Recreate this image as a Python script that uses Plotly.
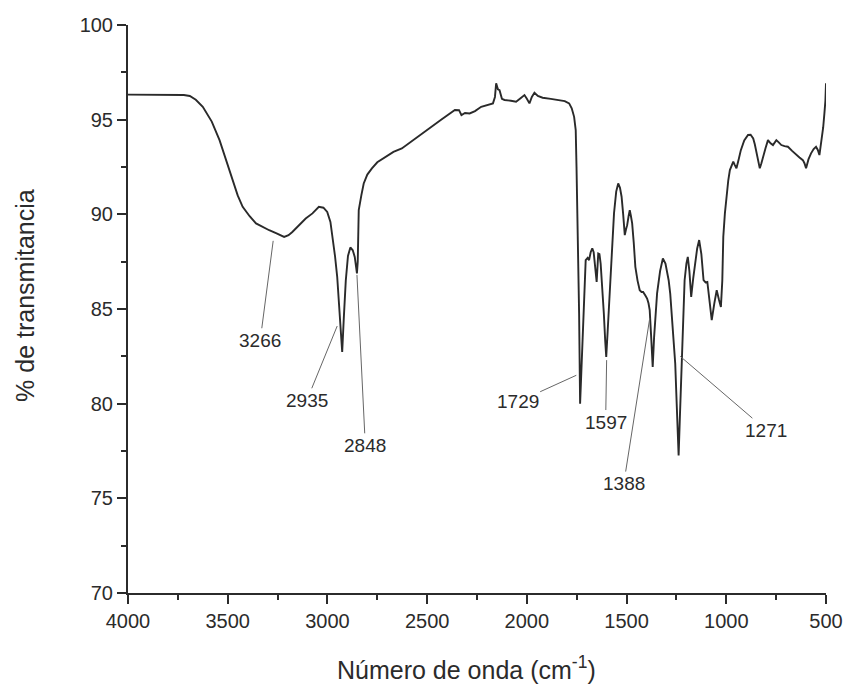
import plotly.graph_objects as go

wavenumber = [
    4000, 3900, 3800, 3720, 3690, 3660, 3625, 3580, 3541, 3510, 3475, 3450, 3425, 3390, 3358,
    3320, 3292, 3255, 3217, 3195, 3176, 3140, 3109, 3075, 3043, 3020, 3001, 2985, 2976, 2962,
    2951, 2940, 2932, 2926, 2918, 2908, 2897, 2885, 2873, 2863, 2856, 2852, 2848, 2843, 2830,
    2818, 2800, 2777, 2750, 2719, 2669, 2627, 2560, 2494, 2430, 2361, 2340, 2328, 2310, 2287,
    2260, 2229, 2190, 2170, 2160, 2154, 2145, 2137, 2125, 2112, 2080, 2054, 2030, 2012, 2000,
    1987, 1975, 1962, 1945, 1921, 1880, 1846, 1810, 1788, 1775, 1763, 1755, 1751, 1746, 1742,
    1738, 1733, 1728, 1722, 1716, 1710, 1705, 1695, 1688, 1680, 1672, 1665, 1660, 1650, 1642,
    1636, 1630, 1622, 1614, 1607, 1602, 1595, 1588, 1580, 1570, 1563, 1552, 1542, 1533, 1525,
    1517, 1509, 1503, 1497, 1490, 1484, 1478, 1472, 1464, 1456, 1445, 1434, 1425, 1417, 1405,
    1397, 1390, 1384, 1376, 1369, 1362, 1355, 1347, 1332, 1318, 1305, 1289, 1281, 1273, 1265,
    1256, 1248, 1239, 1232, 1223, 1215, 1209, 1200, 1193, 1185, 1176, 1166, 1156, 1146, 1136,
    1125, 1114, 1104, 1095, 1085, 1073, 1060, 1048, 1037, 1027, 1020, 1015, 1007, 999, 990,
    982, 973, 965, 957, 949, 938, 927, 910, 891, 878, 865, 857, 849, 840, 832,
    824, 816, 803, 791, 778, 766, 757, 749, 737, 724, 708, 691, 670, 649, 633,
    616, 608, 600, 588, 575, 562, 550, 541, 533, 526, 520, 514, 508, 503, 500,
]
transmittance = [
    96.32, 96.32, 96.32, 96.30, 96.25, 96.05, 95.68, 94.90, 93.92, 92.90, 91.81, 91.00, 90.40, 89.90, 89.52,
    89.30, 89.16, 89.00, 88.81, 88.90, 89.07, 89.45, 89.78, 90.05, 90.40, 90.35, 90.13, 89.60, 88.99, 87.80,
    86.70, 85.00, 83.50, 82.73, 84.50, 86.50, 87.80, 88.25, 88.10, 87.75, 87.20, 86.88, 87.50, 90.22, 91.00,
    91.63, 92.10, 92.43, 92.75, 92.95, 93.30, 93.48, 94.00, 94.54, 95.00, 95.51, 95.50, 95.24, 95.35, 95.33,
    95.45, 95.68, 95.80, 95.86, 96.20, 96.92, 96.60, 96.56, 96.10, 96.04, 96.00, 95.95, 96.15, 96.30, 96.10,
    95.86, 96.20, 96.42, 96.25, 96.16, 96.10, 96.04, 95.98, 95.86, 95.60, 95.15, 94.45, 92.51, 90.05, 87.50,
    84.76, 80.00, 81.50, 83.50, 84.76, 86.50, 87.58, 87.70, 87.58, 88.00, 88.20, 88.00, 87.58, 86.43, 87.93,
    87.90, 87.40, 86.20, 84.76, 83.30, 82.47, 83.80, 85.30, 86.52, 88.50, 90.05, 91.20, 91.63, 91.40, 90.93,
    90.00, 88.90, 89.20, 89.43, 89.90, 90.22, 89.90, 89.52, 88.50, 87.23, 86.50, 85.99, 85.90, 85.90, 85.70,
    85.55, 85.30, 84.94, 83.40, 81.94, 83.50, 84.90, 85.82, 87.00, 87.67, 87.40, 86.52, 85.80, 84.76, 83.50,
    82.12, 79.80, 77.27, 79.50, 82.12, 84.50, 86.52, 87.40, 87.75, 87.00, 85.64, 86.60, 87.40, 88.20, 88.64,
    87.90, 86.52, 86.40, 86.43, 85.50, 84.41, 85.30, 85.99, 85.50, 85.11, 86.50, 88.81, 90.05, 91.10, 91.80,
    92.34, 92.60, 92.78, 92.60, 92.43, 92.90, 93.39, 93.90, 94.19, 94.20, 94.01, 93.70, 93.30, 92.80, 92.43,
    92.70, 93.04, 93.50, 93.92, 93.75, 93.66, 93.80, 93.92, 93.80, 93.66, 93.60, 93.57, 93.35, 93.13, 93.00,
    92.86, 92.70, 92.43, 92.90, 93.22, 93.45, 93.57, 93.40, 93.13, 93.60, 94.10, 94.60, 95.33, 96.00, 96.92,
]

# peak labels: text, curve point (x, y), label position (x, y)
peak_labels = ["3266", "2935", "2848", "1729", "1597", "1388", "1271"]
peak_x = [3272, 2951, 2852, 1752, 1600, 1384, 1231]
peak_y = [88.6, 84.1, 86.8, 81.5, 82.3, 84.5, 82.5]
label_x = [3337, 3103, 2810, 2046, 1605, 1514, 799]
label_y = [83.35, 80.18, 77.8, 80.09, 79.03, 75.78, 78.6]

x_ticks = [4000, 3500, 3000, 2500, 2000, 1500, 1000, 500]
y_ticks = [70, 75, 80, 85, 90, 95, 100]

FONT = "Liberation Sans, Arial, sans-serif"
INK = "#2b2b2b"

fig = go.Figure()
fig.add_trace(go.Scatter(
    x=wavenumber, y=transmittance, mode="lines",
    line=dict(color="#2a2a2a", width=1.9), showlegend=False,
))

annotations = []
for t, px, py, lx, ly in zip(peak_labels, peak_x, peak_y, label_x, label_y):
    annotations.append(dict(
        x=px, y=py, xref="x", yref="y", ax=lx, ay=ly, axref="x", ayref="y",
        text=t, showarrow=True, arrowhead=0, arrowwidth=1, arrowcolor="#666666",
        standoff=0, startstandoff=0,
        font=dict(family=FONT, size=19, color=INK),
    ))

annotations.append(dict(
    text="Número de onda (cm<sup>-1</sup>)", xref="paper", yref="paper",
    x=0.485, y=0, yanchor="middle", xanchor="center", yshift=-75, showarrow=False,
    font=dict(family=FONT, size=25, color=INK),
))
annotations.append(dict(
    text="% de transmitancia", xref="paper", yref="paper",
    x=0, y=0.523, xanchor="center", yanchor="middle", xshift=-103, showarrow=False,
    textangle=-90, font=dict(family=FONT, size=25, color=INK),
))

fig.update_layout(
    width=855, height=685,
    margin=dict(l=128, r=25, t=25, b=92),
    paper_bgcolor="white", plot_bgcolor="white",
    font=dict(family=FONT, size=20, color=INK),
    annotations=annotations,
)
fig.update_xaxes(
    range=[4000, 500], tickvals=x_ticks, ticktext=[str(v) for v in x_ticks],
    showgrid=False, zeroline=False, showline=True, linecolor=INK, linewidth=2,
    ticks="outside", ticklen=9, tickwidth=2, tickcolor=INK,
    minor=dict(ticks="outside", ticklen=5, tickwidth=2, tickcolor=INK, dtick=250, showgrid=False),
    tickfont=dict(family=FONT, size=20, color=INK),
)
fig.update_yaxes(
    range=[70, 100], tickvals=y_ticks, ticktext=[str(v) for v in y_ticks],
    showgrid=False, zeroline=False, showline=True, linecolor=INK, linewidth=2,
    ticks="outside", ticklen=9, tickwidth=2, tickcolor=INK,
    minor=dict(ticks="outside", ticklen=5, tickwidth=2, tickcolor=INK, dtick=2.5, showgrid=False),
    tickfont=dict(family=FONT, size=20, color=INK),
)

fig.write_html(
    "out.html",
    config={"displayModeBar": False},
    post_script="document.body.style.margin='0';document.body.style.overflow='hidden';",
)
